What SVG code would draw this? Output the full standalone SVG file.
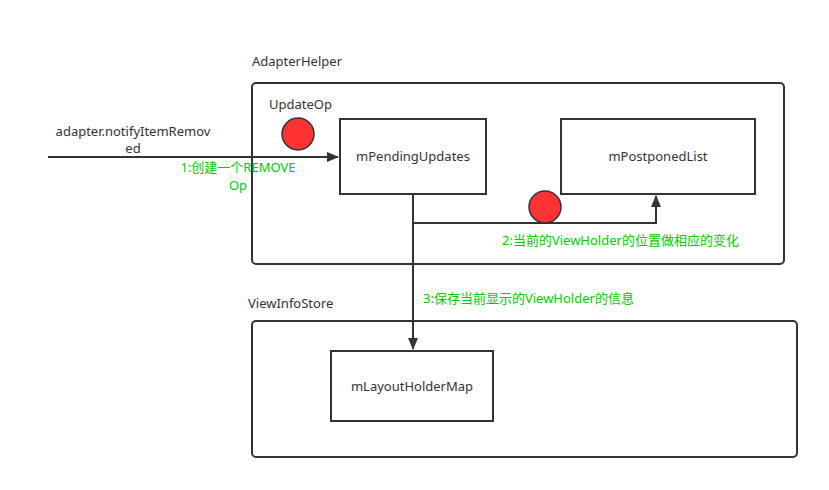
<svg xmlns="http://www.w3.org/2000/svg" width="829" height="490" viewBox="0 0 829 490">
<defs>
<style>
.t{font-family:"Noto Sans","Noto Sans CJK SC",sans-serif;font-size:13px;fill:#333}
.g{font-family:"Noto Sans","Noto Sans CJK SC",sans-serif;font-size:13px;fill:#00cc00}
.box{fill:#fff;stroke:#333;stroke-width:2}
.ln{fill:none;stroke:#333;stroke-width:2}
.dot{fill:#ff3333;stroke:#333;stroke-width:1.5}
</style>
<marker id="ar" markerWidth="12" markerHeight="10" refX="11" refY="5" orient="auto" markerUnits="userSpaceOnUse">
<path d="M0,0 L12,5 L0,10 Z" fill="#333"/>
</marker>
</defs>
<rect width="829" height="490" fill="#fff"/>
<g id="adapterHelper">
<text class="t" x="252" y="66">AdapterHelper</text>
<rect class="box" x="252" y="83" width="532" height="181" rx="4"/>
<text class="t" x="269" y="109">UpdateOp</text>
</g>
<g id="viewInfoStore">
<text class="t" x="248" y="308">ViewInfoStore</text>
<rect class="box" x="252" y="321" width="545" height="136" rx="4"/>
</g>
<g id="mPendingUpdates">
<rect class="box" x="340" y="119" width="146" height="75"/>
<text class="t" x="413" y="161" text-anchor="middle">mPendingUpdates</text>
</g>
<g id="mPostponedList">
<rect class="box" x="561" y="119" width="194" height="75"/>
<text class="t" x="658" y="161" text-anchor="middle">mPostponedList</text>
</g>
<g id="mLayoutHolderMap">
<rect class="box" x="331" y="351" width="162" height="70"/>
<text class="t" x="412" y="391" text-anchor="middle">mLayoutHolderMap</text>
</g>
<g id="dot1"><circle class="dot" cx="298" cy="134" r="16"/></g>
<g id="dot2"><circle class="dot" cx="545" cy="207" r="16"/></g>
<g id="connectors">
<line class="ln" x1="48" y1="157" x2="338" y2="157" marker-end="url(#ar)"/>
<text class="t" x="133" y="136" text-anchor="middle">adapter.notifyItemRemov</text>
<text class="t" x="133" y="153" text-anchor="middle">ed</text>
<text class="g" x="238" y="172" text-anchor="middle">1:创建一个REMOVE</text>
<text class="g" x="238" y="190" text-anchor="middle">Op</text>
<polyline class="ln" points="413,194 413,223 656,223 656,196" marker-end="url(#ar)"/>
<text class="g" x="502" y="245">2:当前的ViewHolder的位置做相应的变化</text>
<line class="ln" x1="413" y1="223" x2="413" y2="349" marker-end="url(#ar)"/>
<text class="g" x="423" y="303">3:保存当前显示的ViewHolder的信息</text>
</g>
</svg>
